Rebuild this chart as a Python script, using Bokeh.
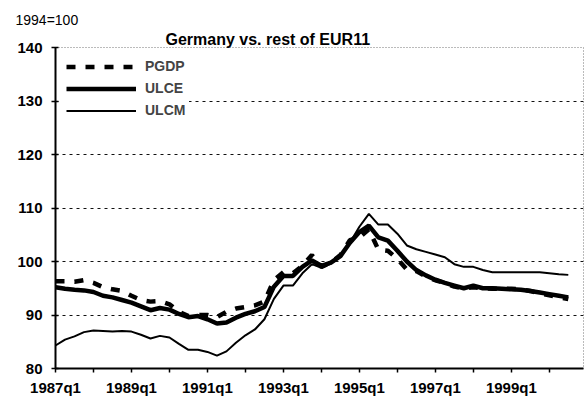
from bokeh.plotting import figure
from bokeh.models import FixedTicker, Legend, LegendItem, Range1d, Grid, Title
from bokeh.embed import file_html
from bokeh.resources import INLINE

# quarter index: 0 = 1987q1 ... 54 = 2000q3
quarters = list(range(55))

pgdp = [96.3, 96.3, 96.2, 96.5, 96.0, 95.2, 94.8, 94.5, 93.6, 92.8,
        92.5, 92.6, 92.0, 90.6, 89.8, 90.0, 90.0, 89.6, 90.6, 91.2,
        91.5, 91.8, 92.5, 96.5, 98.0, 97.8, 99.2, 101.2, 99.0, 99.8,
        101.2, 104.0, 104.5, 106.0, 102.2, 102.0, 100.5, 98.5, 98.2, 97.2,
        96.5, 96.0, 95.3, 95.0, 95.2, 95.0, 94.9, 94.9, 94.9, 94.8,
        94.5, 94.0, 93.7, 93.3, 93.0]

ulce = [95.2, 94.9, 94.7, 94.6, 94.3, 93.6, 93.3, 92.8, 92.3, 91.6,
        90.9, 91.3, 91.0, 90.2, 89.6, 89.8, 89.2, 88.4, 88.6, 89.5,
        90.2, 90.7, 91.5, 95.3, 97.3, 97.3, 99.0, 100.2, 99.2, 99.8,
        101.0, 103.5, 105.5, 106.7, 104.5, 103.9, 102.0, 100.0, 98.4, 97.4,
        96.6, 96.0, 95.5, 95.0, 95.5, 95.0, 95.0, 94.9, 94.8, 94.7,
        94.5, 94.2, 93.9, 93.6, 93.3]

ulcm = [84.3, 85.4, 86.0, 86.8, 87.1, 87.0, 86.9, 87.0, 86.9, 86.3,
        85.6, 86.1, 85.8, 84.6, 83.5, 83.5, 83.1, 82.4, 83.2, 84.8,
        86.2, 87.3, 89.2, 93.0, 95.5, 95.5, 97.8, 99.5, 98.8, 99.6,
        101.0, 103.5, 106.5, 108.9, 106.9, 106.9, 105.2, 103.0, 102.3, 101.8,
        101.3, 100.8, 99.5, 99.0, 99.0, 98.4, 98.0, 98.0, 98.0, 98.0,
        98.0, 98.0, 97.8, 97.6, 97.5]

x_tick_positions = [0, 4, 8, 12, 16, 20, 24, 28, 32, 36, 40, 44, 48, 52]
x_tick_labels = ["1987q1", "", "1989q1", "", "1991q1", "", "1993q1", "",
                 "1995q1", "", "1997q1", "", "1999q1", ""]
y_ticks = [80, 90, 100, 110, 120, 130, 140]
grid_values = [90, 100, 110, 120, 130]

TITLE = "Germany vs. rest of EUR11"
UNIT = "1994=100"

FONT = "Liberation Sans"
W, H = 584, 405

p = figure(width=W, height=H, output_backend="svg", toolbar_location=None,
           x_range=Range1d(0, 55.6), y_range=Range1d(80, 140),
           min_border_left=55, min_border_right=1, min_border_top=47,
           min_border_bottom=37)

p.background_fill_color = "white"
p.border_fill_color = "white"
p.outline_line_color = "#777777"
p.outline_line_dash = "1 2"
p.outline_line_width = 1

# axes
p.xaxis.ticker = FixedTicker(ticks=x_tick_positions)
p.xaxis.major_label_overrides = {t: l for t, l in zip(x_tick_positions, x_tick_labels)}
p.xaxis.minor_tick_line_color = None
p.yaxis.ticker = FixedTicker(ticks=y_ticks)
p.yaxis.minor_tick_line_color = None
for ax in (p.xaxis, p.yaxis):
    ax.axis_line_color = "black"
    ax.axis_line_width = 2
    ax.major_tick_line_color = "black"
    ax.major_tick_line_width = 1.5
    ax.major_tick_out = 4
    ax.major_tick_in = 0
    ax.major_label_text_font = FONT
    ax.major_label_text_font_style = "bold"
    ax.major_label_text_font_size = "15px"
    ax.major_label_text_color = "black"
p.yaxis.major_tick_in = 3
p.yaxis.major_label_standoff = 9
p.xaxis.major_label_standoff = 6

# grid
p.xgrid.visible = False
p.ygrid.visible = False
ygrid = Grid(dimension=1, ticker=FixedTicker(ticks=grid_values),
             grid_line_color="#111111", grid_line_dash="3 4", grid_line_width=1)
p.add_layout(ygrid, "center")

r_pgdp = p.line(quarters, pgdp, line_color="black", line_width=4.5, line_dash="9 10")
r_ulce = p.line(quarters, ulce, line_color="black", line_width=4.5)
r_ulcm = p.line(quarters, ulcm, line_color="black", line_width=2)

legend = Legend(items=[LegendItem(label="PGDP", renderers=[r_pgdp]),
                       LegendItem(label="ULCE", renderers=[r_ulce]),
                       LegendItem(label="ULCM", renderers=[r_ulcm])],
                location="top_left")
legend.glyph_width = 70
legend.glyph_height = 15
legend.spacing = 6
legend.padding = 4
legend.margin = 7
legend.label_standoff = 9
legend.label_text_font = FONT
legend.label_text_font_style = "bold"
legend.label_text_font_size = "14px"
legend.border_line_alpha = 0
legend.background_fill_color = "white"
legend.background_fill_alpha = 1
p.add_layout(legend)

# outer title row: unit note; inner title row: main title
p.title.text = UNIT
p.title.text_font = FONT
p.title.text_font_style = "normal"
p.title.text_font_size = "14px"
p.title.text_color = "black"
p.title.align = "left"
p.title.offset = -40
p.title.standoff = 2

main_title = Title(text=TITLE, text_font=FONT, text_font_style="bold",
                   text_font_size="16px", text_color="black",
                   align="left", offset=110, standoff=0)
p.add_layout(main_title, "above")

open("out.html", "w").write(file_html(p, INLINE))
